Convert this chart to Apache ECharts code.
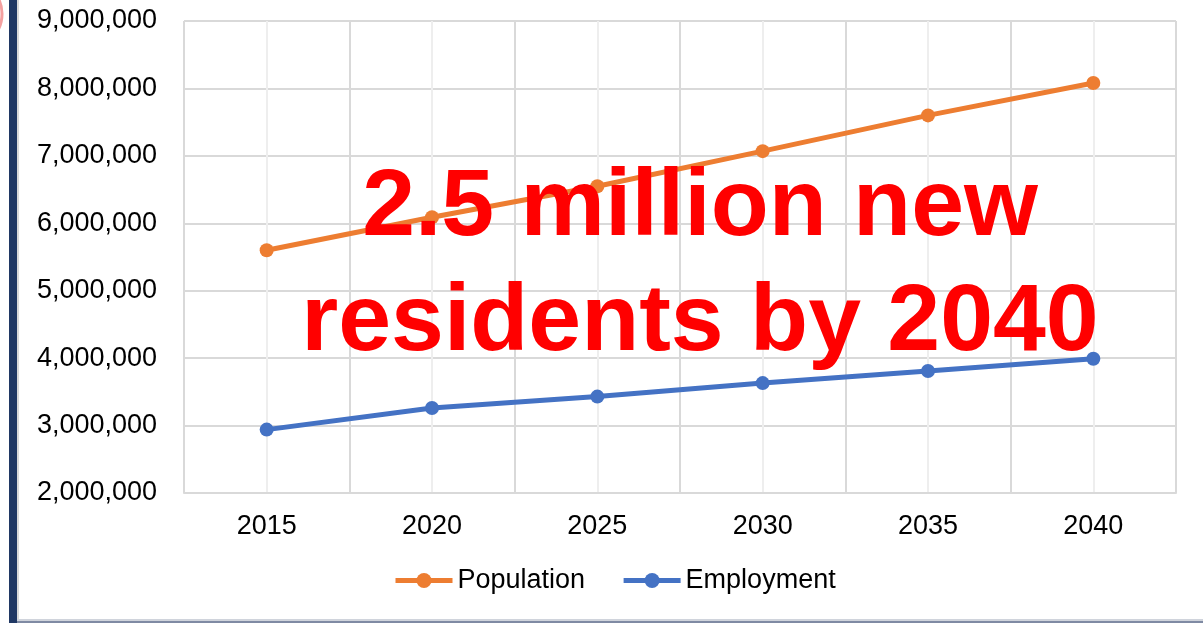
<!DOCTYPE html>
<html>
<head>
<meta charset="utf-8">
<script src="https://cdn.jsdelivr.net/npm/echarts@6/dist/echarts.min.js"></script>
<style>
  html, body { margin: 0; padding: 0; background: #ffffff; }
  #chart { width: 1203px; height: 623px; }
</style>
</head>
<body>
<div id="chart"></div>
<script>
// Regional forecast: population and employment, 2015-2040
const years = ['2015', '2020', '2025', '2030', '2035', '2040'];
const population = [5600000, 6090000, 6550000, 7070000, 7600000, 8080000];
const employment = [2940000, 3260000, 3430000, 3630000, 3810000, 3990000];
const headlineLines = ['2.5 million new', 'residents by 2040'];

const FONT = '"Liberation Sans", Arial, sans-serif';
const ORANGE = '#ed7d31';
const BLUE = '#4472c4';

const chart = echarts.init(document.getElementById('chart'), null, { renderer: 'canvas' });

function lineSeries(name, data, color) {
  return {
    name: name,
    type: 'line',
    data: data,
    xAxisIndex: 0,
    symbol: 'circle',
    symbolSize: 14,
    lineStyle: { color: color, width: 5 },
    itemStyle: { color: color },
    emphasis: { disabled: true },
    z: 3
  };
}

// headline line, anchored by the bottom of its text box
function headline(text, bottomY) {
  return {
    type: 'text', x: 700, y: bottomY,
    style: {
      text: text, fontFamily: FONT, fontWeight: 'bold', fontSize: 95,
      fill: '#ff0000', textAlign: 'center', textVerticalAlign: 'bottom'
    },
    z: 20
  };
}

chart.setOption({
  animation: false,
  backgroundColor: '#ffffff',
  grid: { left: 184, right: 27, top: 21, bottom: 130 },
  legend: {
    bottom: 24,
    left: 388,
    itemWidth: 57,
    itemHeight: 19,
    itemGap: 36,
    lineStyle: { width: 5 },
    textStyle: { fontFamily: FONT, fontSize: 27, color: '#000000' },
    data: ['Population', 'Employment']
  },
  xAxis: [
    {
      type: 'category',
      data: years,
      boundaryGap: true,
      axisLine: { show: true, lineStyle: { color: '#d9d9d9', width: 2 } },
      axisTick: { show: false },
      splitLine: { show: false },
      axisLabel: { fontFamily: FONT, fontSize: 27, color: '#000000', margin: 20 }
    },
    {
      // gridlines: darker at category boundaries, lighter through each year
      type: 'value',
      min: 0,
      max: 6,
      interval: 1,
      position: 'bottom',
      axisLine: { show: false },
      axisTick: { show: false },
      axisLabel: { show: false },
      splitLine: { show: true, lineStyle: { color: '#d9d9d9', width: 2 } },
      minorTick: { show: false, splitNumber: 2 },
      minorSplitLine: { show: true, lineStyle: { color: '#eeeeee', width: 2 } }
    }
  ],
  yAxis: {
    type: 'value',
    min: 2000000,
    max: 9000000,
    interval: 1000000,
    axisLine: { show: false },
    axisTick: { show: false },
    splitLine: { show: true, lineStyle: { color: '#d9d9d9', width: 2 } },
    axisLabel: {
      fontFamily: FONT,
      fontSize: 27,
      color: '#000000',
      margin: 27,
      formatter: function (v) { return v.toLocaleString('en-US'); }
    }
  },
  graphic: [
    // left frame bar and bottom rule of the slide
    { type: 'rect', shape: { x: 9, y: 0, width: 8, height: 623 }, style: { fill: '#203864' }, z: 10 },
    { type: 'rect', shape: { x: 17, y: 0, width: 2, height: 623 }, style: { fill: '#d9d9d9' }, z: 10 },
    { type: 'rect', shape: { x: 17, y: 619, width: 1186, height: 2 }, style: { fill: '#d0d4dc' }, z: 10 },
    { type: 'rect', shape: { x: 17, y: 621, width: 1186, height: 2 }, style: { fill: '#7f8aa3' }, z: 10 },
    // edge of the round badge at the top-left corner
    { type: 'arc', shape: { cx: -32, cy: 14, r: 34, startAngle: -0.8, endAngle: 0.8 },
      style: { stroke: '#f4a0a0', lineWidth: 3, fill: null }, z: 10 },
    headline(headlineLines[0], 256),
    headline(headlineLines[1], 371)
  ],
  series: [
    lineSeries('Population', population, ORANGE),
    lineSeries('Employment', employment, BLUE)
  ]
});
</script>
</body>
</html>
